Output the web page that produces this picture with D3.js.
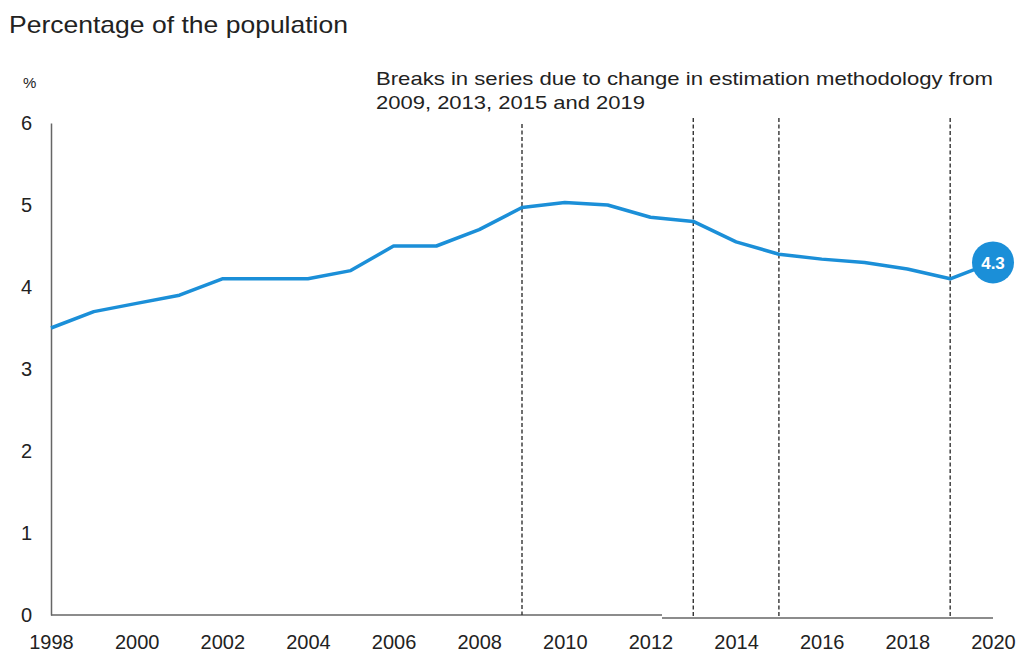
<!DOCTYPE html>
<html lang="en">
<head>
<meta charset="utf-8">
<title>Percentage of the population</title>
<script src="https://d3js.org/d3.v7.min.js"></script>
<style>
  body { margin: 0; background: #fff; }
  svg text { font-family: "Liberation Sans", Arial, sans-serif; fill: #222; }
</style>
</head>
<body>
<svg width="1022" height="653"></svg>
<script>
  // data
  var years = [1998, 1999, 2000, 2001, 2002, 2003, 2004, 2005, 2006, 2007, 2008,
               2009, 2010, 2011, 2012, 2013, 2014, 2015, 2016, 2017, 2018, 2019, 2020];
  var share = [3.5, 3.7, 3.8, 3.9, 4.1, 4.1, 4.1, 4.2, 4.5, 4.5, 4.7,
               4.97, 5.03, 5.0, 4.85, 4.8, 4.55, 4.4, 4.34, 4.3, 4.22, 4.1, 4.3];
  var breakYears = [2009, 2013, 2015, 2019];
  var xTicks = [1998, 2000, 2002, 2004, 2006, 2008, 2010, 2012, 2014, 2016, 2018, 2020];
  var yTicks = [0, 1, 2, 3, 4, 5, 6];

  var svg = d3.select("svg"),
      blue = "#1b8fd8";

  var x = d3.scaleLinear().domain([1998, 2020]).range([51, 993]),
      y = d3.scaleLinear().domain([0, 6]).range([615, 123]);

  // title
  svg.append("text")
     .attr("x", 9).attr("y", 33)
     .attr("font-size", "24px")
     .attr("textLength", 339)
     .attr("lengthAdjust", "spacingAndGlyphs")
     .text("Percentage of the population");

  // unit
  svg.append("text")
     .attr("x", 23).attr("y", 88)
     .attr("font-size", "15px")
     .text("%");

  // y axis
  var gy = svg.append("g")
     .attr("transform", "translate(" + x(1998) + ",0)")
     .call(d3.axisLeft(y).tickValues(yTicks).tickFormat(d3.format("d")).tickSize(0).tickPadding(19));
  gy.select(".domain").attr("stroke", "#666").attr("stroke-width", 1.5);
  gy.selectAll("text").attr("font-size", "20px").attr("font-family", "Liberation Sans, Arial, sans-serif").attr("fill", "#222");

  // x axis labels
  var gx = svg.append("g")
     .attr("transform", "translate(0," + y(0) + ")")
     .call(d3.axisBottom(x).tickValues(xTicks).tickFormat(d3.format("d")).tickSize(0).tickPadding(20));
  gx.select(".domain").remove();
  gx.selectAll("text").attr("font-size", "20px").attr("font-family", "Liberation Sans, Arial, sans-serif").attr("fill", "#222");

  // x axis line, drawn in two pieces (slight step near 2012)
  svg.append("line")
     .attr("x1", x(1998)).attr("x2", x(2012.27))
     .attr("y1", y(0)).attr("y2", y(0))
     .attr("stroke", "#666").attr("stroke-width", 1.5);
  svg.append("line")
     .attr("x1", x(2012.27)).attr("x2", x(2020))
     .attr("y1", y(0) + 3).attr("y2", y(0) + 3)
     .attr("stroke", "#666").attr("stroke-width", 1.5);

  // break lines
  svg.selectAll(".brk")
     .data(breakYears)
     .enter().append("line")
     .attr("class", "brk")
     .attr("x1", function(d) { return x(d); })
     .attr("x2", function(d) { return x(d); })
     .attr("y1", function(d) { return d === 2009 ? 124 : 118; })
     .attr("y2", function(d) { return d === 2009 ? y(0) : y(0) + 3; })
     .attr("stroke", "#333")
     .attr("stroke-width", 1.4)
     .attr("stroke-dasharray", "4,2.5");

  // annotation
  svg.append("text")
     .attr("x", 376).attr("y", 85)
     .attr("font-size", "19px")
     .attr("textLength", 617)
     .attr("lengthAdjust", "spacingAndGlyphs")
     .text("Breaks in series due to change in estimation methodology from");
  svg.append("text")
     .attr("x", 376).attr("y", 109)
     .attr("font-size", "19px")
     .attr("textLength", 269)
     .attr("lengthAdjust", "spacingAndGlyphs")
     .text("2009, 2013, 2015 and 2019");

  // line
  var line = d3.line()
     .x(function(d, i) { return x(years[i]); })
     .y(function(d) { return y(d); });

  svg.append("path")
     .datum(share)
     .attr("fill", "none")
     .attr("stroke", blue)
     .attr("stroke-width", 3.5)
     .attr("stroke-linejoin", "round")
     .attr("d", line);

  // end bubble
  var last = share.length - 1;
  svg.append("circle")
     .attr("cx", x(years[last])).attr("cy", y(share[last]))
     .attr("r", 21)
     .attr("fill", blue);
  svg.append("text")
     .attr("x", x(years[last])).attr("y", y(share[last]))
     .attr("dy", "0.36em")
     .attr("text-anchor", "middle")
     .attr("font-size", "17px")
     .attr("font-weight", "bold")
     .style("fill", "#fff")
     .text(share[last].toFixed(1));
</script>
</body>
</html>
